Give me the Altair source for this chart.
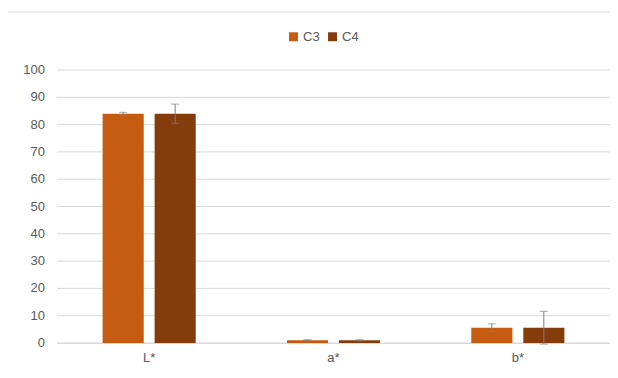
import altair as alt
import pandas as pd

categories = ["L*", "a*", "b*"]
series = ["C3", "C4"]
c3_values = [84.0, 1.0, 5.6]
c3_errors = [0.5, 0.2, 1.4]
c4_values = [84.0, 1.0, 5.6]
c4_errors = [3.5, 0.2, 6.0]
colors = ["#C55A11", "#843C0C"]
y_ticks = [0, 10, 20, 30, 40, 50, 60, 70, 80, 90, 100]

rows = []
for i, c in enumerate(categories):
    rows.append({"cat": c, "series": "C3", "value": c3_values[i], "lo": c3_values[i] - c3_errors[i], "hi": c3_values[i] + c3_errors[i]})
    rows.append({"cat": c, "series": "C4", "value": c4_values[i], "lo": c4_values[i] - c4_errors[i], "hi": c4_values[i] + c4_errors[i]})
df = pd.DataFrame(rows)
grid_df = pd.DataFrame({"t": y_ticks})

font = "Liberation Sans"
xaxis = alt.Axis(labelAngle=0, ticks=False, domainColor="#d9d9d9", grid=False,
                 labelColor="#595959", labelFontSize=13, labelFont=font,
                 labelPadding=8)
xscale = alt.Scale(paddingInner=0.495, paddingOuter=0.2475)
xoff = alt.XOffset("series:N", sort=series, scale=alt.Scale(paddingInner=0.21, paddingOuter=0))
yscale = alt.Scale(domain=[0, 100], nice=False)

grid = alt.Chart(grid_df).mark_rule(color="#d9d9d9", strokeWidth=1).encode(
    y=alt.Y("t:Q", scale=yscale, axis=None),
    x=alt.value(0), x2=alt.value(553),
)
ylabels = alt.Chart(grid_df).mark_text(
    align="right", baseline="middle", font=font, fontSize=13, color="#595959"
).encode(
    y=alt.Y("t:Q", scale=yscale, axis=None),
    x=alt.value(-12),
    text=alt.Text("t:Q"),
)

bars = alt.Chart(df).mark_bar().encode(
    x=alt.X("cat:N", sort=categories, title=None, scale=xscale, axis=xaxis),
    xOffset=xoff,
    y=alt.Y("value:Q", title=None, scale=yscale, axis=None),
    color=alt.Color("series:N", sort=series,
                    scale=alt.Scale(domain=series, range=colors),
                    legend=alt.Legend(title=None, orient="none", direction="horizontal",
                                      legendX=230, legendY=-40, symbolType="square",
                                      symbolSize=80, symbolStrokeWidth=0,
                                      labelFontSize=13, labelFont=font, labelColor="#595959",
                                      columnPadding=6, labelOffset=3)),
)

base_err = alt.Chart(df).encode(
    x=alt.X("cat:N", sort=categories, title=None, scale=xscale, axis=xaxis),
    xOffset=xoff,
)
rule = base_err.mark_rule(color="#7f7f7f", strokeWidth=1).encode(
    y=alt.Y("lo:Q", scale=yscale, axis=None), y2="hi:Q")
cap_hi = base_err.mark_tick(color="#7f7f7f", thickness=1, size=8).encode(
    y=alt.Y("hi:Q", scale=yscale, axis=None))
cap_lo = base_err.mark_tick(color="#7f7f7f", thickness=1, size=8).encode(
    y=alt.Y("lo:Q", scale=yscale, axis=None))

border = alt.Chart(pd.DataFrame({"a": [0]})).mark_rect(
    fill=None, stroke="#d9d9d9", strokeWidth=1, clip=False
).encode(x=alt.value(-50), x2=alt.value(565), y=alt.value(-58), y2=alt.value(312))

chart = alt.layer(border, grid, ylabels, bars, rule, cap_hi, cap_lo).properties(
    width=553, height=273,
    background="white",
    padding={"left": 49, "top": 62, "right": 0, "bottom": 30},
    autosize=alt.AutoSizeParams(type="none"),
).configure_view(stroke=None)

chart.save("out.html", embed_options={"renderer": "svg", "actions": False})
